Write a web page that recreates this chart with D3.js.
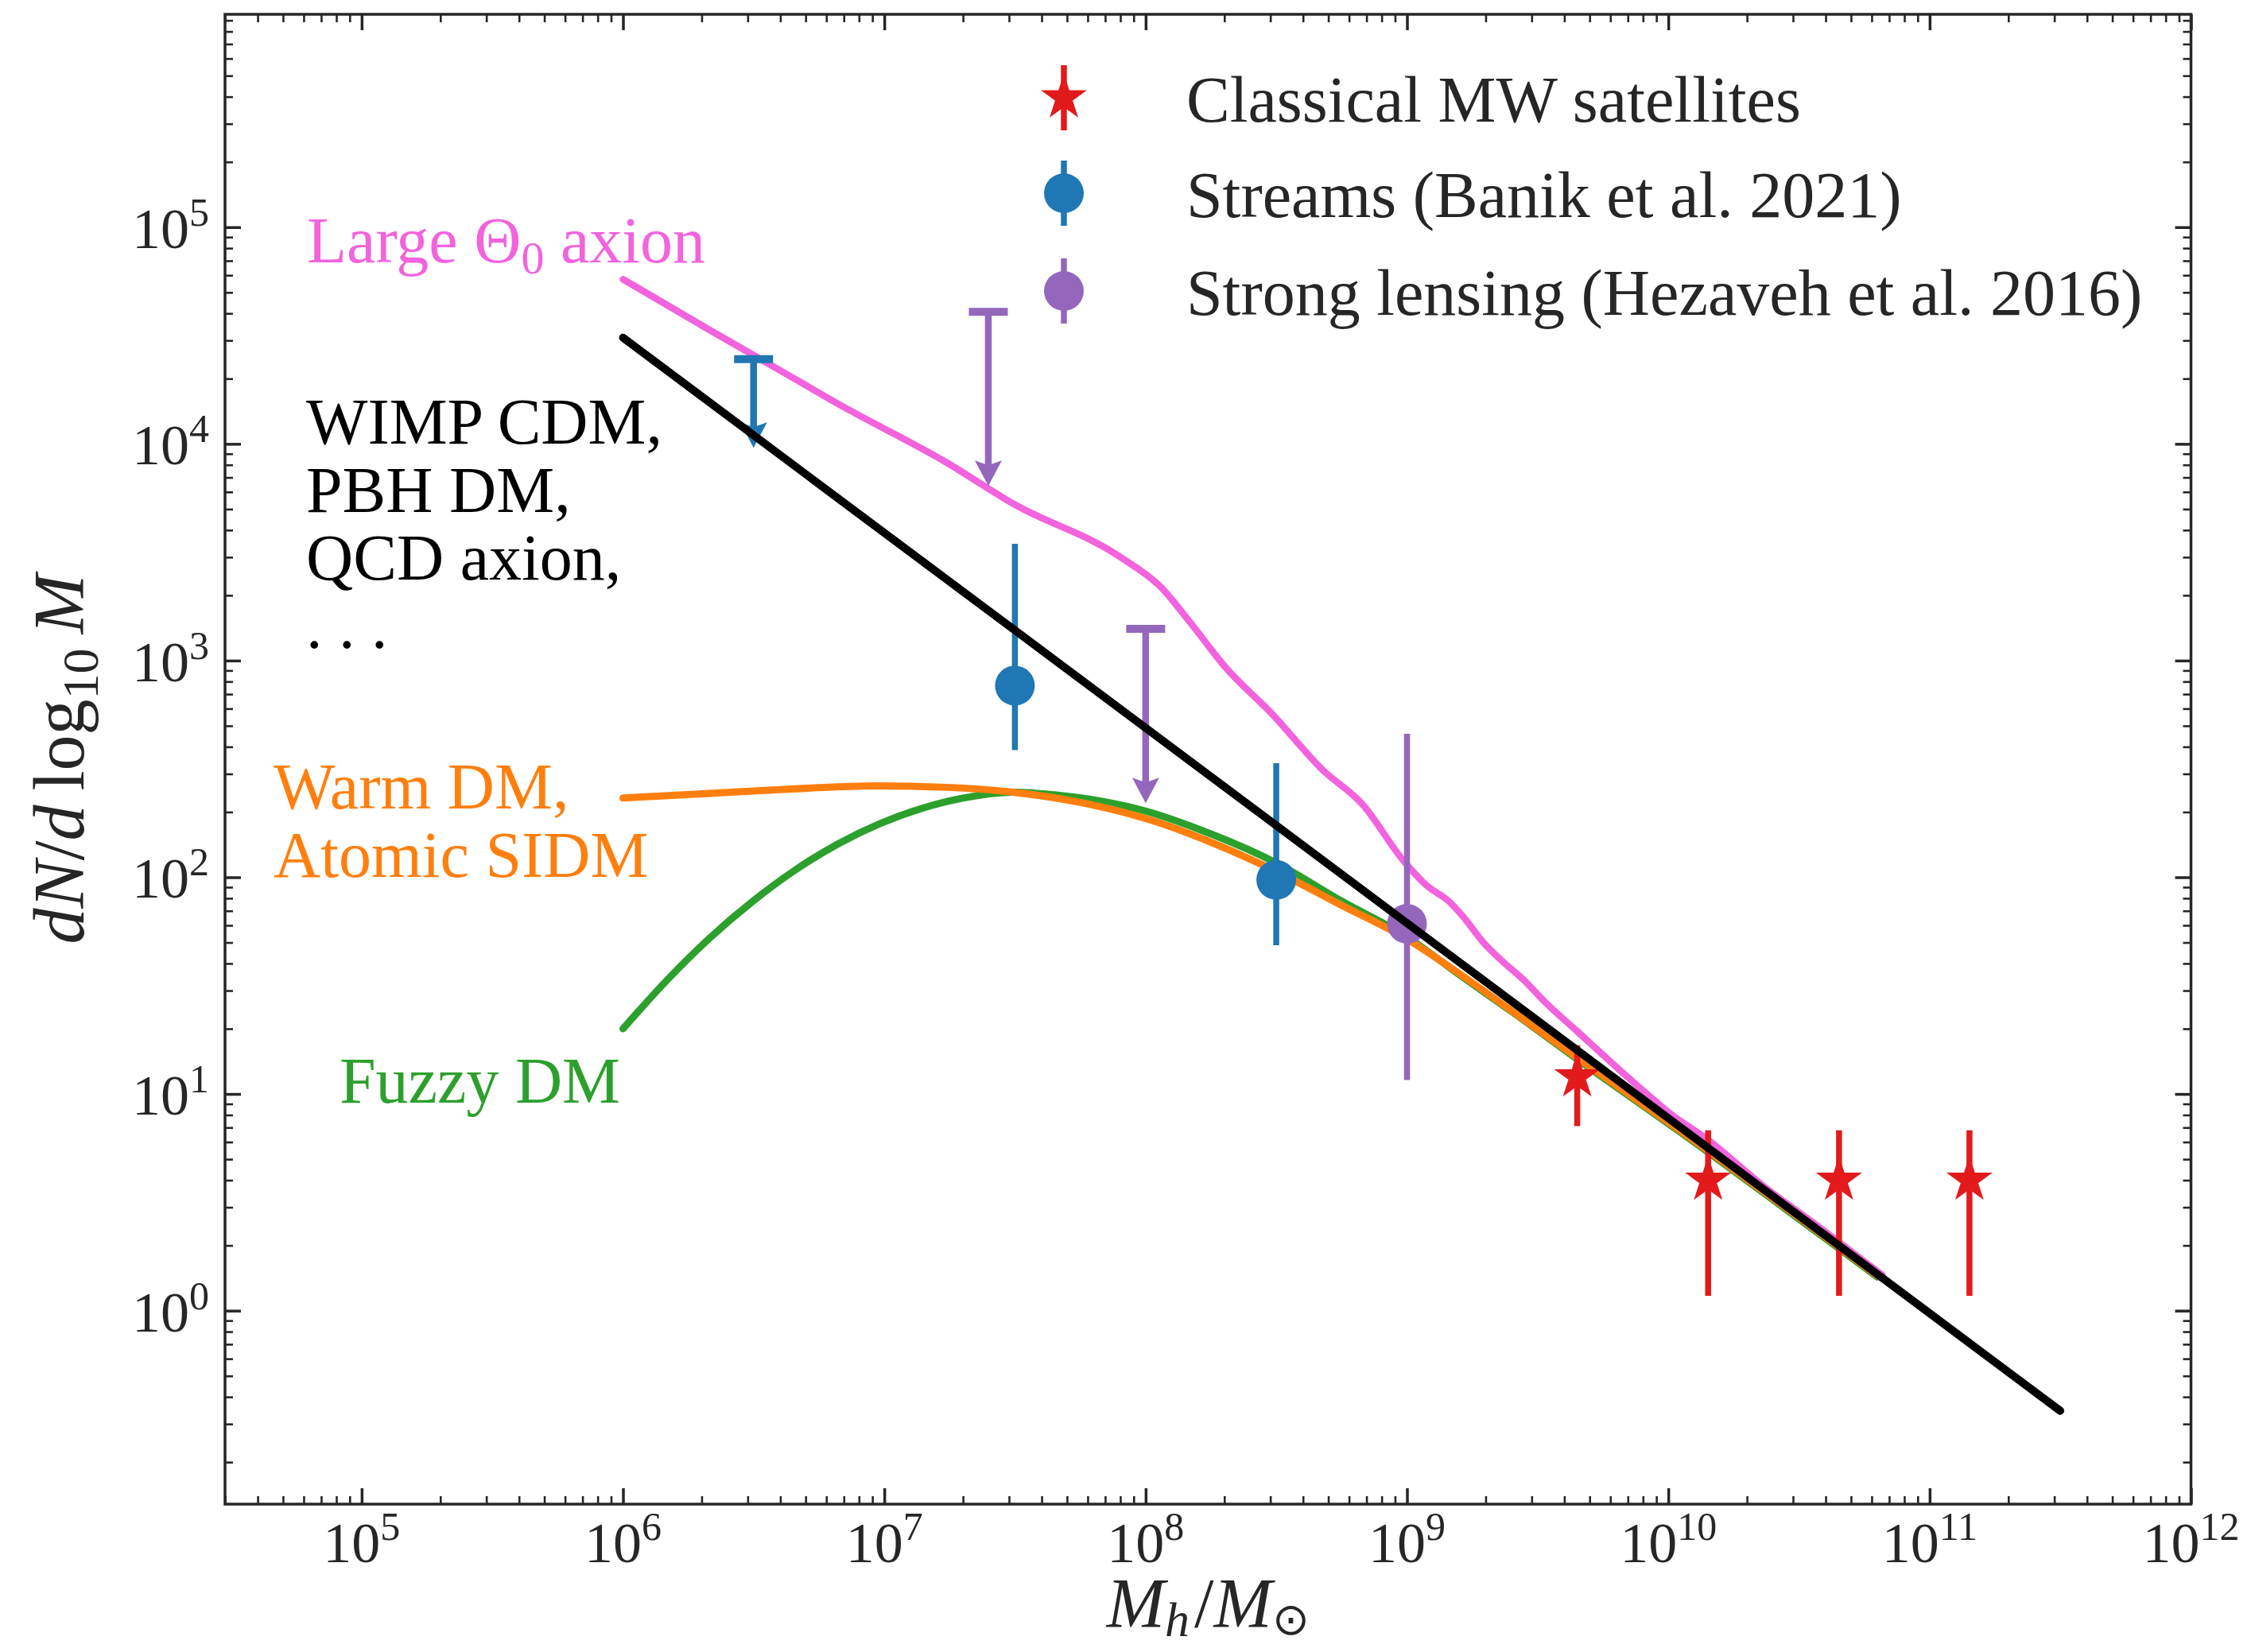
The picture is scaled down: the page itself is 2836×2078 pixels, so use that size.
<!DOCTYPE html>
<html><head><meta charset="utf-8">
<script src="https://cdn.jsdelivr.net/npm/d3@7"></script>
<style>
body{margin:0;background:#fff}
svg{display:block}
text{font-family:'Liberation Serif','Times New Roman',serif;}
</style>
</head><body>
<svg id="chart" width="2836" height="2078"></svg>
<script>
// ---------------- data ----------------
const xTickExponents = [5, 6, 7, 8, 9, 10, 11, 12];
const yTickExponents = [0, 1, 2, 3, 4, 5];

// WIMP CDM / PBH / QCD axion power law (black)
const cdmMass = [1e6, 3.16e11];
const cdmN = [3.09e4, 0.345];

// Large Theta_0 axion (pink)
const axionMass = [1.00e6, 2.15e6, 4.56e6, 6.52e6, 1.74e7, 3.10e7, 7.94e7, 1.14e8, 1.48e8, 2.03e8, 3.03e8, 4.74e8, 6.78e8, 9.55e8, 1.18e9, 1.46e9, 1.64e9, 1.98e9, 2.28e9, 2.81e9, 3.37e9, 4.47e9, 6.08e9, 8.05e9, 1.01e10, 1.41e10, 2.30e10, 3.66e10, 6.59e10];
const axionN = [5.75e4, 3.35e4, 1.99e4, 1.55e4, 8.17e3, 5.31e3, 3.02e3, 2.19e3, 1.50e3, 925, 571, 314, 216, 122, 92.3, 76.6, 65.8, 49.3, 41.7, 33.4, 26.6, 19.5, 13.9, 10.3, 8.17, 6.18, 3.78, 2.50, 1.46];

// Warm DM, Atomic SIDM (orange)
const warmMass = [1e6, 2.15e6, 4.56e6, 9.31e6, 1.74e7, 3.10e7, 5.68e7, 1.04e8, 1.78e8, 3.18e8, 5.62e8, 1e9, 1.56e9, 2.49e9, 4.47e9, 1.41e10, 3.16e10, 6.31e10];
const warmN = [232, 244, 256, 264, 260, 247, 221, 184, 145, 106, 74.3, 51.9, 36.4, 24.4, 14.7, 5.50, 2.69, 1.45];

// Fuzzy DM (green)
const fuzzyMass = [1e6, 1.48e6, 2.15e6, 3.16e6, 4.56e6, 6.61e6, 9.64e6, 1.41e7, 2.0e7, 3.16e7, 4.47e7, 6.67e7, 1.0e8, 1.63e8, 3.18e8, 5.62e8, 1e9, 1.56e9, 2.49e9, 4.47e9, 1.41e10, 3.16e10, 6.31e10];
const fuzzyN = [20.0, 33.7, 52.5, 78.0, 108, 142, 177, 209, 232, 247, 240, 225, 202, 165, 116, 77.6, 53.1, 36.0, 24.2, 14.5, 5.42, 2.65, 1.43];

// Classical MW satellites (red stars)
const mwMass = [4.48e9, 1.42e10, 4.5e10, 1.42e11];
const mwN = [12, 4, 4, 4];
const mwLow = [7.1, 1.17, 1.17, 1.17];
const mwHigh = [16.8, 6.8, 6.8, 6.8];

// Streams (Banik et al. 2021) (blue)
const streamsMass = [3.16e7, 3.16e8];
const streamsN = [766, 97.3];
const streamsLow = [386, 48.6];
const streamsHigh = [3460, 336];
const streamsLimMass = [3.16e6];
const streamsLimTop = [2.46e4];
const streamsLimTip = [9.6e3];

// Strong lensing (Hezaveh et al. 2016) (purple)
const lensMass = [1e9];
const lensN = [61];
const lensLow = [11.6];
const lensHigh = [459];
const lensLimMass = [2.5e7, 1e8];
const lensLimTop = [4.07e4, 1400];
const lensLimTip = [6.4e3, 220];

// ---------------- styles ----------------
const C = {
  black: '#000000', pink: '#f263dd', orange: '#ff7f0e', green: '#2ca02c',
  red: '#e31a1c', blue: '#1f77b4', purple: '#9467bd', axis: '#262626'
};

const svg = d3.select('#chart');
const L = 283, R = 2755.5, T = 18, B = 1892;
const x = d3.scaleLog().domain([3e4, 1e12]).range([L, R]);
const y = d3.scaleLog().domain([0.128, 9.6e5]).range([B, T]);

svg.append('rect').attr('width', 2836).attr('height', 2078).attr('fill', '#fff');

// ---------------- axes ----------------
const xMajor = xTickExponents.map(e => Math.pow(10, e));
const yMajor = yTickExponents.map(e => Math.pow(10, e));
const xMinor = [], yMinor = [];
for (let e = 4; e <= 11; e++) for (let m = 2; m <= 9; m++) { const v = m * Math.pow(10, e); if (v >= 3e4 && v <= 1e12) xMinor.push(v); }
for (let e = -1; e <= 5; e++) for (let m = 2; m <= 9; m++) { const v = m * Math.pow(10, e); if (v >= 0.128 && v <= 9.6e5) yMinor.push(v); }

function styleAxis(g, w) {
  g.select('.domain').remove();
  g.selectAll('.tick line').attr('stroke', C.axis).attr('stroke-width', w);
  g.selectAll('.tick text').remove();
}
const MAJ = 20, MIN = 10;
svg.append('g').attr('transform', `translate(0,${B})`)
  .call(d3.axisBottom(x).tickValues(xMajor).tickSizeInner(-MAJ).tickSizeOuter(0).tickFormat(() => ''))
  .call(g => styleAxis(g, 3.5));
svg.append('g').attr('transform', `translate(0,${B})`)
  .call(d3.axisBottom(x).tickValues(xMinor).tickSizeInner(-MIN).tickSizeOuter(0).tickFormat(() => ''))
  .call(g => styleAxis(g, 2.6));
svg.append('g').attr('transform', `translate(0,${T})`)
  .call(d3.axisTop(x).tickValues(xMajor).tickSizeInner(-MAJ).tickSizeOuter(0).tickFormat(() => ''))
  .call(g => styleAxis(g, 3.5));
svg.append('g').attr('transform', `translate(0,${T})`)
  .call(d3.axisTop(x).tickValues(xMinor).tickSizeInner(-MIN).tickSizeOuter(0).tickFormat(() => ''))
  .call(g => styleAxis(g, 2.6));
svg.append('g').attr('transform', `translate(${L},0)`)
  .call(d3.axisLeft(y).tickValues(yMajor).tickSizeInner(-MAJ).tickSizeOuter(0).tickFormat(() => ''))
  .call(g => styleAxis(g, 3.5));
svg.append('g').attr('transform', `translate(${L},0)`)
  .call(d3.axisLeft(y).tickValues(yMinor).tickSizeInner(-MIN).tickSizeOuter(0).tickFormat(() => ''))
  .call(g => styleAxis(g, 2.6));
svg.append('g').attr('transform', `translate(${R},0)`)
  .call(d3.axisRight(y).tickValues(yMajor).tickSizeInner(-MAJ).tickSizeOuter(0).tickFormat(() => ''))
  .call(g => styleAxis(g, 3.5));
svg.append('g').attr('transform', `translate(${R},0)`)
  .call(d3.axisRight(y).tickValues(yMinor).tickSizeInner(-MIN).tickSizeOuter(0).tickFormat(() => ''))
  .call(g => styleAxis(g, 2.6));

// tick labels (10^n)
function powLabel(sel, e) {
  sel.append('tspan').text('10');
  sel.append('tspan').attr('font-size', 50).attr('dy', -28).text(String(e));
}
xTickExponents.forEach(e => {
  const t = svg.append('text').attr('x', x(Math.pow(10, e))).attr('y', 1965)
    .attr('text-anchor', 'middle').attr('font-size', 72).attr('fill', C.axis);
  powLabel(t, e);
});
yTickExponents.forEach(e => {
  const t = svg.append('text').attr('x', 263).attr('y', y(Math.pow(10, e)) + 26)
    .attr('text-anchor', 'end').attr('font-size', 72).attr('fill', C.axis);
  powLabel(t, e);
});

// frame
svg.append('rect').attr('x', L).attr('y', T).attr('width', R - L).attr('height', B - T)
  .attr('fill', 'none').attr('stroke', C.axis).attr('stroke-width', 3.5);

// axis labels
const xl = svg.append('text').attr('x', (L + R) / 2).attr('y', 2046).attr('text-anchor', 'middle')
  .attr('font-size', 88).attr('fill', C.axis);
xl.append('tspan').attr('font-style', 'italic').text('M');
xl.append('tspan').attr('font-style', 'italic').attr('font-size', 62).attr('dy', 12).text('h');
xl.append('tspan').attr('dy', -12).attr('dx', 6).text('/');
xl.append('tspan').attr('font-style', 'italic').text('M');
xl.append('tspan').attr('font-size', 56).attr('dy', 10).text('⊙');

const yl = svg.append('text').attr('transform', `translate(105,${(T + B) / 2}) rotate(-90)`)
  .attr('text-anchor', 'middle').attr('font-size', 90).attr('fill', C.axis);
yl.append('tspan').attr('font-style', 'italic').text('dN');
yl.append('tspan').text('/');
yl.append('tspan').attr('font-style', 'italic').text('d');
yl.append('tspan').text('\u2009log');
yl.append('tspan').attr('font-size', 64).attr('dy', 18).text('10');
yl.append('tspan').attr('dy', -18).text('\u2009');
yl.append('tspan').attr('font-style', 'italic').text('M');

// ---------------- curves (under data) ----------------
const line = d3.line().x(d => x(d[0])).y(d => y(d[1])).curve(d3.curveMonotoneX);
function drawCurve(ms, ns, color, w) {
  svg.append('path').datum(ms.map((m, i) => [m, ns[i]]))
    .attr('d', line).attr('fill', 'none').attr('stroke', color)
    .attr('stroke-width', w).attr('stroke-linecap', 'round').attr('stroke-linejoin', 'round');
}
drawCurve(fuzzyMass, fuzzyN, C.green, 9);
drawCurve(warmMass, warmN, C.orange, 9);
drawCurve(axionMass, axionN, C.pink, 8.5);

// ---------------- data ----------------
const starSym = d3.symbol().type(d3.symbolStar).size(1044);
const circSym = d3.symbol().type(d3.symbolCircle).size(Math.PI * 25 * 25);

function errBars(ms, ns, lo, hi, color, sym) {
  const g = svg.append('g');
  ms.forEach((m, i) => {
    g.append('line').attr('x1', x(m)).attr('x2', x(m)).attr('y1', y(hi[i])).attr('y2', y(lo[i]))
      .attr('stroke', color).attr('stroke-width', 7.5);
    g.append('path').attr('d', sym()).attr('transform', `translate(${x(m)},${y(ns[i])})`).attr('fill', color);
  });
}
function upperLimits(ms, top, tip, color) {
  const g = svg.append('g');
  ms.forEach((m, i) => {
    const cx = x(m), yt = y(top[i]), yp = y(tip[i]);
    g.append('line').attr('x1', cx).attr('x2', cx).attr('y1', yt).attr('y2', yp - 26)
      .attr('stroke', color).attr('stroke-width', 8.5);
    g.append('line').attr('x1', cx - 24.5).attr('x2', cx + 24.5).attr('y1', yt).attr('y2', yt)
      .attr('stroke', color).attr('stroke-width', 10);
    g.append('path').attr('d', `M${cx - 17},${yp - 32} L${cx},${yp - 26} L${cx + 17},${yp - 32} L${cx},${yp} Z`)
      .attr('fill', color);
  });
}
upperLimits(streamsLimMass, streamsLimTop, streamsLimTip, C.blue);
upperLimits(lensLimMass, lensLimTop, lensLimTip, C.purple);
errBars(streamsMass, streamsN, streamsLow, streamsHigh, C.blue, circSym);
errBars(lensMass, lensN, lensLow, lensHigh, C.purple, circSym);
errBars(mwMass, mwN, mwLow, mwHigh, C.red, starSym);

// black CDM line on top
drawCurve(cdmMass, cdmN, C.black, 10);

// ---------------- annotations ----------------
function note(lines, x0, y0, color, dy) {
  lines.forEach((s, i) => {
    svg.append('text').attr('x', x0).attr('y', y0 + i * dy).attr('font-size', 82).attr('fill', color).text(s);
  });
}
const lt = svg.append('text').attr('x', 386).attr('y', 330).attr('font-size', 82).attr('fill', C.pink);
lt.append('tspan').text('Large Θ');
lt.append('tspan').attr('font-size', 58).attr('dy', 14).text('0');
lt.append('tspan').attr('dy', -14).text(' axion');
note(['WIMP CDM,', 'PBH DM,', 'QCD axion,', '. . .'], 385, 558, '#000', 85.5);
note(['Warm DM,', 'Atomic SIDM'], 344, 1017, C.orange, 86);
note(['Fuzzy DM'], 427, 1387, C.green, 86);

// ---------------- legend ----------------
const legendRows = [
  { sym: starSym, color: C.red, label: 'Classical MW satellites', y: 123 },
  { sym: circSym, color: C.blue, label: 'Streams (Banik et al. 2021)', y: 243 },
  { sym: circSym, color: C.purple, label: 'Strong lensing (Hezaveh et al. 2016)', y: 366 }
];
const lg = svg.append('g');
legendRows.forEach(r => {
  lg.append('line').attr('x1', 1338).attr('x2', 1338).attr('y1', r.y - 41).attr('y2', r.y + 41)
    .attr('stroke', r.color).attr('stroke-width', 7.5);
  lg.append('path').attr('d', r.sym()).attr('transform', `translate(1338,${r.y})`).attr('fill', r.color);
  lg.append('text').attr('x', 1492).attr('y', r.y + 30).attr('font-size', 82).attr('fill', C.axis).text(r.label);
});
</script>
</body></html>
